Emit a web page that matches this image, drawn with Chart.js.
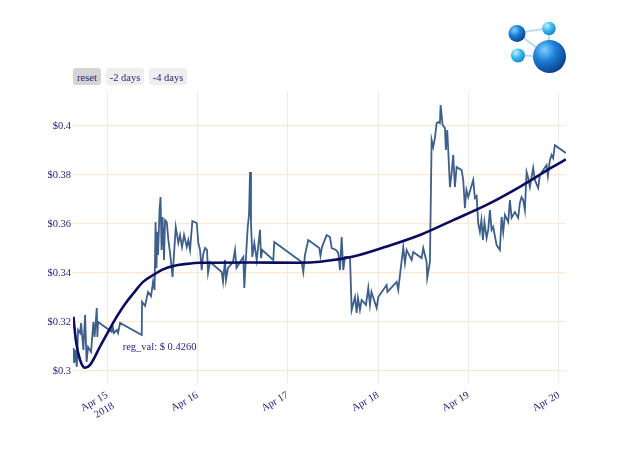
<!DOCTYPE html>
<html>
<head>
<meta charset="utf-8">
<title>price with regression</title>
<script src="https://cdn.jsdelivr.net/npm/chart.js@4.4.1/dist/chart.umd.min.js"></script>
<style>
  body { margin: 0; background: #fff; }
  #wrap { position: relative; width: 640px; height: 457px; }
  .rs-btn {
    position: absolute; top: 68px; height: 17px;
    display: flex; align-items: center; justify-content: center;
    font: 10.5px "Liberation Serif", serif; color: #24297a;
    background: #eeeeee; border-radius: 3px; padding-top: 1px; box-sizing: border-box;
  }
  .rs-btn.active { background: #d4d4d4; }
  #logo { position: absolute; left: 500px; top: 14px; }
</style>
</head>
<body>
<div id="wrap">
  <canvas id="priceChart" width="640" height="457"></canvas>
  <div class="rs-btn active" style="left:73px;width:28px;">reset</div>
  <div class="rs-btn" style="left:106px;width:38px;">-2 days</div>
  <div class="rs-btn" style="left:149px;width:38px;">-4 days</div>
  <svg id="logo" width="72" height="66" viewBox="500 14 72 66">
    <defs>
      <radialGradient id="ballDark" cx="0.35" cy="0.3" r="0.75">
        <stop offset="0" stop-color="#7fd0ff"/>
        <stop offset="0.45" stop-color="#1c7fd6"/>
        <stop offset="1" stop-color="#0a3d8a"/>
      </radialGradient>
      <radialGradient id="ballLight" cx="0.35" cy="0.3" r="0.75">
        <stop offset="0" stop-color="#c6f0ff"/>
        <stop offset="0.5" stop-color="#38b8f0"/>
        <stop offset="1" stop-color="#1784c8"/>
      </radialGradient>
    </defs>
    <g stroke="#b9dcf3" stroke-width="2">
      <line x1="517" y1="33" x2="549" y2="28"/>
      <line x1="517" y1="33" x2="549" y2="57"/>
      <line x1="518" y1="55" x2="549" y2="57"/>
      <line x1="549" y1="28" x2="549" y2="57"/>
    </g>
    <circle cx="517" cy="33.5" r="8.5" fill="url(#ballDark)"/>
    <circle cx="549" cy="28.5" r="6.8" fill="url(#ballLight)"/>
    <circle cx="518" cy="55.5" r="7" fill="url(#ballLight)"/>
    <circle cx="549.5" cy="56.5" r="16.5" fill="url(#ballDark)"/>
  </svg>
</div>
<script>
// hours counted from Apr 15 2018 00:00
const priceHours = [
  -9.03, -8.89, -8.76, -8.50, -8.04, -7.70, -7.17, -6.90, -6.29, -5.84,
  -5.44, -5.04, -4.25, -3.64, -3.32, -2.73, -2.58, -2.39, 1.25, 1.46,
  1.86, 2.58, 2.92, 3.45, 9.21, 9.29, 10.09, 10.89, 11.68, 12.21,
  12.61, 12.88, 13.14, 13.28, 13.54, 13.94, 14.20, 14.47, 14.74, 15.13,
  15.40, 15.85, 16.28, 16.73, 17.39, 18.24, 18.93, 19.38, 19.91, 20.44,
  21.16, 21.59, 22.04, 22.65, 23.82, 24.24, 24.69, 25.14, 25.49, 26.02,
  26.55, 26.82, 27.35, 30.45, 30.80, 31.33, 31.59, 32.13, 33.45, 33.98,
  34.38, 35.31, 36.19, 36.45, 36.82, 37.36, 37.70, 37.97, 38.23, 38.58,
  39.11, 39.75, 40.62, 40.89, 41.23, 44.15, 44.42, 51.69, 52.12, 52.57,
  53.44, 56.37, 56.68, 57.08, 58.32, 59.21, 59.66, 60.80, 61.41, 61.86,
  62.31, 62.74, 63.19, 64.52, 64.97, 65.84, 66.29, 66.64, 67.17, 67.62,
  68.76, 69.38, 69.83, 70.23, 71.61, 72.03, 74.26, 74.47, 76.92, 77.34,
  78.67, 79.12, 79.57, 80.90, 81.32, 83.55, 83.98, 84.88, 85.04, 85.76,
  86.21, 86.63, 87.08, 87.54, 87.96, 88.41, 88.60, 89.13, 89.74, 90.00,
  90.35, 90.62, 91.07, 91.52, 91.94, 92.39, 92.85, 94.17, 94.60, 95.05,
  95.45, 95.93, 97.25, 97.71, 98.16, 98.58, 99.03, 99.43, 99.83, 100.23,
  100.81, 101.24, 101.69, 102.14, 102.56, 103.47, 104.34, 104.80, 105.22, 105.67,
  106.55, 107.00, 107.45, 108.32, 109.20, 109.65, 110.10, 110.53, 110.98, 111.43,
  111.86, 112.31, 113.18, 113.63, 114.51, 114.96, 116.74, 117.09, 117.62, 118.07,
  118.49, 118.94, 121.86
];
const priceValues = [
  0.3066, 0.3094, 0.3033, 0.3086, 0.3017, 0.3168, 0.3155, 0.3196, 0.3086, 0.3229,
  0.3037, 0.3098, 0.3078, 0.3200, 0.3139, 0.3257, 0.3139, 0.3200, 0.3160, 0.3184,
  0.3155, 0.3168, 0.3155, 0.3196, 0.3147, 0.3282, 0.3266, 0.3323, 0.3306, 0.3364,
  0.3331, 0.3608, 0.3421, 0.3568, 0.3474, 0.3657, 0.3710, 0.3494, 0.3629, 0.3453,
  0.3616, 0.3608, 0.3535, 0.3482, 0.3384, 0.3588, 0.3523, 0.3555, 0.3506, 0.3555,
  0.3506, 0.3535, 0.3494, 0.3612, 0.3604, 0.3523, 0.3494, 0.3412, 0.3474, 0.3502,
  0.3494, 0.3400, 0.3445, 0.3404, 0.3364, 0.3453, 0.3372, 0.3421, 0.3445, 0.3494,
  0.3421, 0.3445, 0.3466, 0.3339, 0.3445, 0.3588, 0.3637, 0.3812, 0.3604, 0.3466,
  0.3523, 0.3453, 0.3576, 0.3461, 0.3494, 0.3453, 0.3527, 0.3445, 0.3404, 0.3474,
  0.3535, 0.3502, 0.3470, 0.3506, 0.3555, 0.3547, 0.3502, 0.3494, 0.3482, 0.3412,
  0.3547, 0.3412, 0.3466, 0.3466, 0.3249, 0.3302, 0.3237, 0.3298, 0.3249, 0.3290,
  0.3270, 0.3339, 0.3270, 0.3323, 0.3257, 0.3302, 0.3351, 0.3323, 0.3364, 0.3331,
  0.3506, 0.3441, 0.3494, 0.3453, 0.3486, 0.3461, 0.3502, 0.3445, 0.3380, 0.3445,
  0.3943, 0.3914, 0.3951, 0.4012, 0.4016, 0.4012, 0.4086, 0.4004, 0.3992, 0.3902,
  0.3984, 0.3902, 0.3751, 0.3808, 0.3882, 0.3751, 0.3833, 0.3820, 0.3780, 0.3665,
  0.3739, 0.3710, 0.3780, 0.3706, 0.3714, 0.3604, 0.3568, 0.3616, 0.3535, 0.3608,
  0.3543, 0.3576, 0.3657, 0.3576, 0.3588, 0.3514, 0.3494, 0.3629, 0.3568, 0.3637,
  0.3608, 0.3698, 0.3625, 0.3649, 0.3625, 0.3686, 0.3710, 0.3698, 0.3657, 0.3812,
  0.3788, 0.3751, 0.3829, 0.3780, 0.3747, 0.3800, 0.3841, 0.3796, 0.3861, 0.3882,
  0.3869, 0.3922, 0.3890
];

// regression curve
const regHours = [
  -8.95, -8.23, -7.17, -5.84, -4.51, -1.86, 0.27, 2.58, 4.78, 6.98,
  9.56, 12.29, 14.87, 17.60, 20.97, 24.69, 37.97, 51.24, 56.55, 65.39,
  74.26, 83.10, 91.94, 100.81, 109.65, 118.49, 121.86
];
const regValues = [
  0.3222, 0.3119, 0.3045, 0.3013, 0.3025, 0.3100, 0.3160, 0.3222, 0.3274, 0.3317,
  0.3364, 0.3392, 0.3415, 0.3429, 0.3437, 0.3442, 0.3443, 0.3442, 0.3446, 0.3467,
  0.3508, 0.3555, 0.3616, 0.3678, 0.3752, 0.3834, 0.3864
];

const dayTicks = [0, 24, 48, 72, 96, 120];
const dayLabels = [["Apr 15", "2018"], "Apr 16", "Apr 17", "Apr 18", "Apr 19", "Apr 20"];
const priceTicks = [0.30, 0.32, 0.34, 0.36, 0.38, 0.40];
const regText = "reg_val: $ 0.4260";
const regTextAt = [13.94, 0.3098];

const textColor = "#24297a";
const fontFamily = '"Liberation Serif", "Times New Roman", serif';

const regLabel = {
  id: "regLabel",
  afterDatasetsDraw(chart) {
    const { ctx, scales } = chart;
    ctx.save();
    ctx.font = "10.5px " + fontFamily;
    ctx.fillStyle = textColor;
    ctx.textAlign = "center";
    ctx.textBaseline = "middle";
    ctx.fillText(regText, scales.x.getPixelForValue(regTextAt[0]), scales.y.getPixelForValue(regTextAt[1]));
    ctx.restore();
  }
};

const priceChart = new Chart(document.getElementById("priceChart"), {
  type: "line",
  data: {
    datasets: [
      {
        label: "regression",
        data: regHours.map((h, i) => ({ x: h, y: regValues[i] })),
        borderColor: "#0c0c5e",
        borderWidth: 2.6,
        pointRadius: 0,
        cubicInterpolationMode: "monotone",
        order: 0
      },
      {
        label: "price",
        data: priceHours.map((h, i) => ({ x: h, y: priceValues[i] })),
        borderColor: "#3e5f8a",
        borderWidth: 1.8,
        pointRadius: 0,
        tension: 0,
        order: 1
      }
    ]
  },
  options: {
    responsive: false,
    animation: false,
    layout: { padding: { left: 0, top: 92, right: 74, bottom: 0 } },
    plugins: { legend: { display: false }, tooltip: { enabled: false } },
    scales: {
      x: {
        type: "linear",
        min: -9.05,
        max: 121.9,
        afterBuildTicks: (scale) => { scale.ticks = dayTicks.map(v => ({ value: v })); },
        afterFit: (scale) => { scale.height = 74; },
        grid: { color: "#ebebeb", drawTicks: false },
        border: { display: false },
        ticks: {
          minRotation: 30,
          maxRotation: 30,
          padding: 6,
          color: textColor,
          font: { family: fontFamily, size: 10.5 },
          callback: (v) => dayLabels[dayTicks.indexOf(v)]
        }
      },
      y: {
        min: 0.2951,
        max: 0.4139,
        afterBuildTicks: (scale) => { scale.ticks = priceTicks.map(v => ({ value: v })); },
        afterFit: (scale) => { scale.width = 73; },
        grid: { color: "#fde9d3", lineWidth: 1.2, drawTicks: false },
        border: { display: false },
        ticks: {
          padding: 2,
          color: textColor,
          font: { family: fontFamily, size: 10.5 },
          callback: (v) => "$" + parseFloat(v.toFixed(2))
        }
      }
    }
  },
  plugins: [regLabel]
});
</script>
</body>
</html>
